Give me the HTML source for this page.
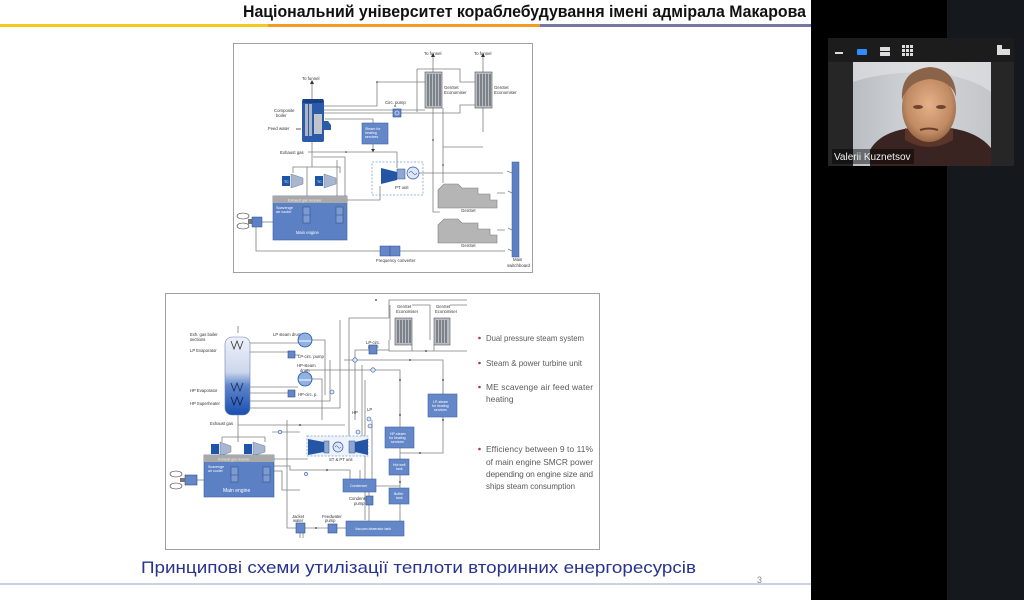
<!DOCTYPE html>
<html><head><meta charset="utf-8">
<style>
html,body{margin:0;padding:0;width:1024px;height:600px;overflow:hidden;background:#fff}
svg{display:block}
text{font-family:"Liberation Sans",sans-serif}
</style></head><body>
<svg width="1024" height="600" viewBox="0 0 1024 600" xmlns="http://www.w3.org/2000/svg">
<defs>
<linearGradient id="blr" x1="0" y1="0" x2="0" y2="1">
<stop offset="0" stop-color="#eef1f8"/><stop offset="0.45" stop-color="#cdd7ec"/><stop offset="0.62" stop-color="#5f86cc"/><stop offset="1" stop-color="#1a4fb0"/>
</linearGradient>
<linearGradient id="wall" x1="0" y1="0" x2="1" y2="0">
<stop offset="0" stop-color="#b9bec4"/><stop offset="0.5" stop-color="#d4d6d8"/><stop offset="1" stop-color="#c3c6ca"/>
</linearGradient>
<radialGradient id="face" cx="0.5" cy="0.45" r="0.6">
<stop offset="0" stop-color="#e6b088"/><stop offset="0.7" stop-color="#c08a62"/><stop offset="1" stop-color="#8a5e40"/>
</radialGradient>
</defs>
<rect width="1024" height="600" fill="#fff"/>

<!-- header -->
<text x="243" y="17" font-family="Liberation Sans Narrow, Liberation Sans, sans-serif" font-weight="bold" font-size="17" textLength="563" lengthAdjust="spacingAndGlyphs" fill="#111">Національний університет кораблебудування імені адмірала Макарова</text>
<rect x="0" y="24" width="268" height="3" fill="#f6c822"/>
<rect x="268" y="24" width="272" height="3" fill="#f39b22"/>
<rect x="540" y="24" width="271" height="3" fill="#7777a6"/>

<!-- ===== TOP DIAGRAM ===== -->
<rect x="233.5" y="43.5" width="299" height="229" fill="#fff" stroke="#a0a0a0" stroke-width="1"/>
<g fill="none" stroke="#808080" stroke-width="0.8">
<path d="M312 84V99"/><path d="M433 57V72"/><path d="M483 57V72"/>
<path d="M417 69H460V82H475"/><path d="M417 69V112"/>
<path d="M324 106H377V82H425"/><path d="M324 110H425"/><path d="M324 113H393"/><path d="M401 113H460V105H475"/>
<path d="M325 119H373V123"/><path d="M373 144V152"/>
<path d="M308 152H397V168"/>
<path d="M312 142V167"/><path d="M293 173V167H340V173"/>
<path d="M313 157H345V197"/>
<path d="M307 167V210"/><path d="M337 160V210"/>
<path d="M347 200H380V186"/>
<path d="M419 173H503M507 171L512 173"/>
<path d="M433 108V212H440"/><path d="M443 108V183"/><path d="M483 108V132"/><path d="M443 147H483"/>
<path d="M497 193H505M508 191L512 193"/><path d="M497 230H505M508 228L512 230"/>
<path d="M256 227V251H380"/><path d="M400 251H505M508 249L512 251"/>
<path d="M262 222H273"/>
</g>
<g fill="#333">
<path d="M310 84L312 80L314 84Z"/><path d="M431 57L433 53L435 57Z"/><path d="M481 57L483 53L485 57Z"/>
<path d="M371 123L373 126L375 123Z"/><path d="M371 149L373 152L375 149Z"/>
<circle cx="377" cy="82" r="0.8"/><circle cx="395" cy="106" r="0.8"/><circle cx="346" cy="152" r="0.8"/>
<circle cx="433" cy="140" r="0.8"/><circle cx="443" cy="165" r="0.8"/>
</g>
<g font-size="4.3" fill="#333">
<text x="302" y="80">To funnel</text><text x="424" y="55">To funnel</text><text x="474" y="55">To funnel</text>
<text x="274" y="112">Composite</text><text x="276" y="117">boiler</text>
<text x="268" y="130">Feed water</text>
<text x="280" y="154">Exhaust gas</text>
<text x="385" y="104">Circ. pump</text>
<text x="444" y="89">GenSet</text><text x="444" y="94">Economiser</text>
<text x="494" y="89">GenSet</text><text x="494" y="94">Economiser</text>
<text x="395" y="189">PT unit</text>
<text x="461" y="212">GenSet</text><text x="461" y="247">GenSet</text>
<text x="376" y="262">Frequency converter</text>
<text x="513" y="261">Main</text><text x="507" y="267">switchboard</text>
</g>
<!-- boiler -->
<rect x="302" y="99" width="22" height="43" rx="2" fill="#2a5aa8"/>
<rect x="305" y="104" width="3" height="32" fill="#aab4c4"/><rect x="309" y="104" width="3" height="32" fill="#aab4c4"/>
<rect x="314" y="114" width="8" height="20" fill="#c0c4cc"/>
<rect x="303" y="99" width="20" height="4" fill="#1a3f85"/>
<path d="M324 121h4l3 4v5h-7z" fill="#2a5aa8"/>
<path d="M296 129H301" stroke="#333" stroke-width="0.8"/>
<!-- steam box -->
<rect x="362" y="123" width="26" height="21" fill="#6487c8" stroke="#3f64a8" stroke-width="0.6"/>
<text x="365" y="130" font-size="3.6" fill="#fff">Steam for</text><text x="365" y="134" font-size="3.6" fill="#fff">heating</text><text x="365" y="138" font-size="3.6" fill="#fff">services</text>
<!-- circ pump -->
<rect x="393" y="109" width="8" height="8" fill="#6487c8" stroke="#2d4f90" stroke-width="0.6"/>
<circle cx="397" cy="113" r="2" fill="none" stroke="#fff" stroke-width="0.6"/>
<!-- economisers -->
<g><rect x="425" y="72" width="17" height="36" fill="#b8bec8" stroke="#555" stroke-width="0.6"/>
<path d="M428 74V106M431 74V106M434 74V106M437 74V106M440 74V106" stroke="#444" stroke-width="1"/></g>
<g><rect x="475" y="72" width="17" height="36" fill="#b8bec8" stroke="#555" stroke-width="0.6"/>
<path d="M478 74V106M481 74V106M484 74V106M487 74V106M490 74V106" stroke="#444" stroke-width="1"/></g>
<!-- TCs -->
<path d="M282 176h8v10h-8z" fill="#1f55a8"/><path d="M291 174l12 4v6l-12 4z" fill="#a9b6cf" stroke="#6e7e9e" stroke-width="0.5"/>
<path d="M315 176h8v10h-8z" fill="#1f55a8"/><path d="M324 174l12 4v6l-12 4z" fill="#a9b6cf" stroke="#6e7e9e" stroke-width="0.5"/>
<text x="284" y="183" font-size="3.5" fill="#fff">TC</text><text x="317" y="183" font-size="3.5" fill="#fff">TC</text>
<!-- main engine -->
<rect x="273" y="196" width="74" height="44" fill="#5b80c4" stroke="#3d5e9c" stroke-width="0.6"/>
<rect x="273" y="196" width="74" height="7" fill="#a9a9a9"/>
<text x="288" y="201.5" font-size="3.6" fill="#eee">Exhaust gas receiver</text>
<text x="276" y="209" font-size="3.8" fill="#fff">Scavenge</text><text x="276" y="213" font-size="3.8" fill="#fff">air cooler</text>
<rect x="303" y="207" width="7" height="16" fill="#7d9bd2" stroke="#33508a" stroke-width="0.6"/><path d="M303 215h7" stroke="#33508a" stroke-width="0.6"/>
<rect x="336" y="207" width="7" height="16" fill="#7d9bd2" stroke="#33508a" stroke-width="0.6"/><path d="M336 215h7" stroke="#33508a" stroke-width="0.6"/>
<text x="296" y="234" font-size="4.2" fill="#fff">Main engine</text>
<!-- propeller -->
<ellipse cx="243" cy="216" rx="6" ry="3" fill="#fff" stroke="#333" stroke-width="0.6"/>
<ellipse cx="243" cy="226" rx="6" ry="3" fill="#fff" stroke="#333" stroke-width="0.6"/>
<rect x="248" y="219" width="4" height="5" fill="#777"/>
<rect x="252" y="217" width="10" height="10" fill="#5b80c4" stroke="#2d4f90" stroke-width="0.5"/>
<!-- PT unit -->
<rect x="372" y="162" width="51" height="33" fill="#fff" fill-opacity="0" stroke="#7aa0d0" stroke-width="0.8" stroke-dasharray="2,1.5"/>
<path d="M381 168l16 4v8l-16 4z" fill="#2456a5"/>
<rect x="397" y="169" width="8" height="10" fill="#8ea6d2" stroke="#2d4f90" stroke-width="0.5"/>
<circle cx="413" cy="173" r="6" fill="#dfe7f5" stroke="#2456a5" stroke-width="0.7"/>
<path d="M409 173q2-3 4 0t4 0" fill="none" stroke="#2456a5" stroke-width="0.6"/>
<!-- gensets -->
<path d="M438 208V190L444 184H458L462 188H478V194H490V200H497V208Z" fill="#b5b5b5" stroke="#7e7e7e" stroke-width="0.6"/>
<path d="M438 243V225L444 219H458L462 223H478V229H490V235H497V243Z" fill="#b5b5b5" stroke="#7e7e7e" stroke-width="0.6"/>
<!-- switchboard -->
<rect x="512" y="162" width="7" height="95" fill="#5b80c4" stroke="#3d5e9c" stroke-width="0.5"/>
<!-- freq conv -->
<rect x="380" y="246" width="10" height="10" fill="#6487c8" stroke="#2d4f90" stroke-width="0.5"/>
<rect x="390" y="246" width="10" height="10" fill="#6487c8" stroke="#2d4f90" stroke-width="0.5"/>

<!-- ===== BOTTOM DIAGRAM ===== -->
<rect x="165.5" y="293.5" width="434" height="256" fill="#fff" stroke="#a0a0a0" stroke-width="1"/>
<g fill="none" stroke="#808080" stroke-width="0.8">
<path d="M238 333V326"/>
<path d="M250 343H298"/><path d="M250 352H288"/><path d="M295 355H300"/>
<path d="M250 387H298"/><path d="M250 393H288"/><path d="M250 401H330V360"/><path d="M250 408H340V320"/>
<path d="M312 340H325V395"/><path d="M312 379H322V420"/>
<path d="M349 440V318H389V300H467"/>
<path d="M389 340V351H467"/><path d="M412 351V345M434 345V351"/>
<path d="M390 305V340M412 305H430V340M450 305H467"/>
<path d="M377 350H389"/><path d="M369 350H355V420"/>
<path d="M344 360H443V453H400"/>
<path d="M305 370H400V427"/>
<path d="M400 448V459M400 475V488M400 504V521"/>
<path d="M443 394V383"/>
<path d="M362 365V440"/><path d="M365 380V520"/><path d="M372 420V479"/>
<path d="M238 415V442"/><path d="M222 437H265"/><path d="M222 437V442"/><path d="M265 437V442"/>
<path d="M238 425H345"/><path d="M272 432H300"/>
<path d="M274 459H308"/><path d="M274 466H290V470H350V479"/><path d="M274 471H282V490H300"/>
<path d="M287 420V528H296"/><path d="M305 528H328"/><path d="M337 528H346"/>
<path d="M360 479V470"/><path d="M376 486H400"/>
<path d="M369 492V496M369 505V521"/>
<path d="M197 480H204"/>
<path d="M300 533V538M303 533V538"/>
</g>
<g fill="#333">
<circle cx="300" cy="425" r="0.9"/><circle cx="327" cy="470" r="0.9"/><circle cx="316" cy="528" r="0.9"/>
<circle cx="400" cy="380" r="0.9"/><circle cx="400" cy="415" r="0.9"/><circle cx="443" cy="380" r="0.9"/><circle cx="443" cy="420" r="0.9"/>
<circle cx="420" cy="453" r="0.9"/><circle cx="400" cy="482" r="0.9"/><circle cx="410" cy="360" r="0.9"/><circle cx="376" cy="300" r="0.9"/><circle cx="426" cy="351" r="0.9"/>
</g>
<!-- valves -->
<g fill="#dfe7f5" stroke="#2456a5" stroke-width="0.6">
<circle cx="355" cy="360" r="2.2"/><circle cx="373" cy="370" r="2.2"/><circle cx="332" cy="392" r="2"/>
<circle cx="280" cy="432" r="1.8"/><circle cx="335" cy="446" r="2.2"/><circle cx="306" cy="474" r="1.6"/>
<circle cx="369" cy="419" r="2"/><circle cx="370" cy="426" r="2"/><circle cx="358" cy="432" r="2"/>
</g>
<!-- boiler column -->
<rect x="225" y="337" width="25" height="78" rx="7" fill="url(#blr)" stroke="#6b84b8" stroke-width="0.6"/>
<path d="M231 341l3 8 3-8 3 8 3-8" fill="none" stroke="#333" stroke-width="0.8"/>
<path d="M231 383l3 8 3-8 3 8 3-8" fill="none" stroke="#1a2a50" stroke-width="0.8"/>
<path d="M231 397l3 8 3-8 3 8 3-8" fill="none" stroke="#0e1c40" stroke-width="0.8"/>
<g font-size="4.2" fill="#333">
<text x="190" y="336">Exh. gas boiler</text><text x="190" y="341">sections</text>
<text x="190" y="352">LP Evaporator</text>
<text x="190" y="392">HP Evaporator</text>
<text x="190" y="405">HP Superheater</text>
<text x="210" y="425">Exhaust gas</text>
<text x="273" y="336">LP steam drum</text>
<text x="297" y="367">HP-steam</text><text x="300" y="372">drum</text>
<text x="298" y="358">LP-circ. pump</text>
<text x="298" y="396">HP-circ. p.</text>
<text x="366" y="344">LP-circ.</text><text x="368" y="348">pump</text>
<text x="397" y="308">GenSet</text><text x="396" y="313">Economiser</text>
<text x="436" y="308">GenSet</text><text x="435" y="313">Economiser</text>
<text x="352" y="414">HP</text><text x="367" y="411">LP</text>
<text x="329" y="461">ST &amp; PT unit</text>
<text x="349" y="500">Condensate</text><text x="354" y="505">pump</text>
<text x="292" y="518">Jacket</text><text x="293" y="522">water</text>
<text x="322" y="518">Feedwater</text><text x="325" y="522">pump</text>
</g>
<!-- drums -->
<circle cx="305" cy="340" r="7" fill="#8fb2e2" stroke="#2456a5" stroke-width="0.8"/>
<path d="M299 341h12" stroke="#fff" stroke-width="1"/>
<circle cx="305" cy="379" r="7" fill="#8fb2e2" stroke="#2456a5" stroke-width="0.8"/>
<path d="M299 380h12" stroke="#fff" stroke-width="1"/>
<!-- pumps -->
<g fill="#6487c8" stroke="#2d4f90" stroke-width="0.6">
<rect x="288" y="351" width="7" height="7"/><rect x="288" y="390" width="7" height="7"/>
<rect x="369" y="345" width="8" height="9"/><rect x="366" y="496" width="7" height="9"/>
<rect x="296" y="523" width="9" height="10"/><rect x="328" y="524" width="9" height="9"/>
<rect x="185" y="475" width="12" height="10"/>
</g>
<!-- economisers -->
<g><rect x="395" y="318" width="17" height="27" fill="#b8bec8" stroke="#555" stroke-width="0.6"/>
<path d="M398 320V343M401 320V343M404 320V343M407 320V343M410 320V343" stroke="#444" stroke-width="1"/></g>
<g><rect x="434" y="318" width="16" height="27" fill="#b8bec8" stroke="#555" stroke-width="0.6"/>
<path d="M437 320V343M440 320V343M443 320V343M446 320V343" stroke="#444" stroke-width="1"/></g>
<!-- boxes -->
<g fill="#6487c8" stroke="#3f64a8" stroke-width="0.6">
<rect x="428" y="394" width="29" height="23"/>
<rect x="385" y="427" width="29" height="21"/>
<rect x="389" y="459" width="20" height="16"/>
<rect x="389" y="488" width="20" height="16"/>
<rect x="343" y="479" width="33" height="13"/>
<rect x="346" y="521" width="58" height="15"/>
</g>
<g font-size="3.5" fill="#fff">
<text x="433" y="403">LP-steam</text><text x="432" y="407">for heating</text><text x="434" y="411">services</text>
<text x="390" y="435">HP-steam</text><text x="389" y="439">for heating</text><text x="391" y="443">services</text>
<text x="393" y="466">Hot well</text><text x="396" y="470">tank</text>
<text x="394" y="495">Buffer</text><text x="396" y="499">tank</text>
<text x="350" y="487">Condenser</text>
<text x="355" y="530">Vacuum deaerator tank</text>
</g>
<!-- TCs bottom -->
<path d="M211 444h8v10h-8z" fill="#1f55a8"/><path d="M220 442l11 4v6l-11 4z" fill="#a9b6cf" stroke="#6e7e9e" stroke-width="0.5"/>
<path d="M244 444h8v10h-8z" fill="#1f55a8"/><path d="M253 442l12 4v6l-12 4z" fill="#a9b6cf" stroke="#6e7e9e" stroke-width="0.5"/>
<!-- main engine bottom -->
<rect x="204" y="455" width="70" height="42" fill="#5b80c4" stroke="#3d5e9c" stroke-width="0.6"/>
<rect x="204" y="455" width="70" height="7" fill="#a9a9a9"/>
<text x="218" y="460.5" font-size="3.4" fill="#eee">Exhaust gas receiver</text>
<text x="208" y="468" font-size="3.6" fill="#fff">Scavenge</text><text x="208" y="472" font-size="3.6" fill="#fff">air cooler</text>
<rect x="231" y="467" width="7" height="15" fill="#7d9bd2" stroke="#33508a" stroke-width="0.6"/><path d="M231 475h7" stroke="#33508a" stroke-width="0.6"/>
<rect x="263" y="467" width="7" height="15" fill="#7d9bd2" stroke="#33508a" stroke-width="0.6"/><path d="M263 475h7" stroke="#33508a" stroke-width="0.6"/>
<text x="223" y="492" font-size="5" fill="#fff">Main engine</text>
<!-- propeller bottom -->
<ellipse cx="176" cy="474" rx="6" ry="3" fill="#fff" stroke="#333" stroke-width="0.6"/>
<ellipse cx="176" cy="486" rx="6" ry="3" fill="#fff" stroke="#333" stroke-width="0.6"/>
<rect x="180" y="478" width="5" height="4" fill="#777"/>
<!-- ST & PT unit -->
<rect x="307" y="436" width="61" height="20" fill="#eef3fb" stroke="#7aa0d0" stroke-width="0.8" stroke-dasharray="2,1.5"/>
<path d="M308 439l16 3v10l-16 3z" fill="#2456a5"/>
<rect x="324" y="441" width="5" height="12" fill="#8ea6d2" stroke="#2d4f90" stroke-width="0.5"/>
<circle cx="338" cy="447" r="5" fill="#dfe7f5" stroke="#2456a5" stroke-width="0.7"/>
<path d="M335 447q1.5-2.5 3 0t3 0" fill="none" stroke="#2456a5" stroke-width="0.6"/>
<rect x="349" y="441" width="6" height="12" fill="#8ea6d2" stroke="#2d4f90" stroke-width="0.5"/>
<path d="M355 442l13-3v16l-13-3z" fill="#2456a5"/>

<!-- bullets -->
<g fill="#c0304a"><circle cx="479.5" cy="338" r="1.3"/><circle cx="479.5" cy="363" r="1.3"/><circle cx="479.5" cy="387" r="1.3"/><circle cx="479.5" cy="449" r="1.3"/></g>
<g font-size="8.4" fill="#5a5a5a">
<text x="486" y="341" textLength="98" lengthAdjust="spacingAndGlyphs">Dual pressure steam system</text>
<text x="486" y="366" textLength="96" lengthAdjust="spacingAndGlyphs">Steam &amp; power turbine unit</text>
<text x="486" y="390" textLength="107" lengthAdjust="spacing">ME scavenge air feed water</text>
<text x="486" y="402">heating</text>
<text x="486" y="452" textLength="107" lengthAdjust="spacing">Efficiency between 9 to 11%</text>
<text x="486" y="465" textLength="107" lengthAdjust="spacing">of main engine SMCR power</text>
<text x="486" y="477" textLength="107" lengthAdjust="spacing">depending on engine size and</text>
<text x="486" y="489" textLength="89" lengthAdjust="spacingAndGlyphs">ships steam consumption</text>
</g>

<!-- caption -->
<text x="141" y="573" font-size="17" fill="#27338f" textLength="555" lengthAdjust="spacingAndGlyphs">Принципові схеми утилізації теплоти вторинних енергоресурсів</text>
<text x="757" y="583" font-size="9" fill="#888">3</text>
<rect x="0" y="583.5" width="811" height="1" fill="#9aa6cc"/>

<!-- right side panels -->
<rect x="811" y="0" width="136" height="600" fill="#000"/>
<rect x="947" y="0" width="77" height="600" fill="#15181c"/>
<rect x="828" y="38" width="186" height="128" fill="#1c1c1c"/>
<rect x="828" y="62" width="186" height="104" fill="#262626"/>
<!-- toolbar icons -->
<rect x="835" y="52" width="8" height="2" fill="#ddd"/>
<rect x="857" y="49" width="10" height="6" rx="1" fill="#2d8cff"/>
<rect x="880" y="47" width="10" height="4" rx="0.5" fill="#ddd"/><rect x="880" y="52" width="10" height="4" rx="0.5" fill="#ddd"/>
<g fill="#ddd">
<rect x="902" y="45" width="3" height="3"/><rect x="906" y="45" width="3" height="3"/><rect x="910" y="45" width="3" height="3"/>
<rect x="902" y="49" width="3" height="3"/><rect x="906" y="49" width="3" height="3"/><rect x="910" y="49" width="3" height="3"/>
<rect x="902" y="53" width="3" height="3"/><rect x="906" y="53" width="3" height="3"/><rect x="910" y="53" width="3" height="3"/>
</g>
<path d="M997 45h5v4h8v6h-13z" fill="#ddd"/>
<!-- video -->
<rect x="853" y="62" width="138" height="104" fill="url(#wall)"/>
<path d="M853 62h138v30q-20-15-60-20q-50 0-78 10z" fill="#e4e5e6" opacity="0.6"/>
<path d="M870 166V150q10-18 40-22h40q28 4 41 20v18z" fill="#3a2422"/>
<path d="M905 128q23 14 48 0v12q-24 14-48 0z" fill="#5a3528"/>
<ellipse cx="929" cy="108" rx="27" ry="34" fill="url(#face)"/>
<path d="M902 100q-2-30 28-33q26 2 26 30q-4-16-26-18q-22 2-28 21z" fill="#8a6448"/>
<ellipse cx="918" cy="107" rx="5" ry="2" fill="#6e4630"/><ellipse cx="941" cy="107" rx="5" ry="2" fill="#6e4630"/>
<path d="M920 130q9-3 18 0" stroke="#6a3e2c" stroke-width="2" fill="none"/>
<rect x="832" y="149" width="82" height="15" fill="#000" fill-opacity="0.45"/>
<text x="834" y="160" font-size="10" fill="#f2f2f2">Valerii Kuznetsov</text>
</svg>
</body></html>
